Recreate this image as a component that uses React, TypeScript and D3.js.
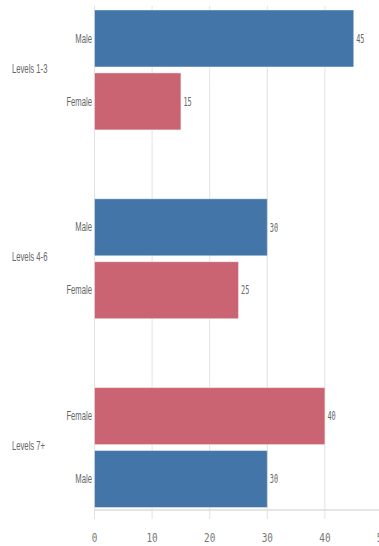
import React from "react";
import * as d3 from "d3";

const groups = ["Levels 1-3", "Levels 4-6", "Levels 7+"];
const genderOrder = [
  ["Male", "Female"],
  ["Male", "Female"],
  ["Female", "Male"],
];
const maleValues = [45, 30, 30];
const femaleValues = [15, 25, 40];
const xTicks = [0, 10, 20, 30, 40, 50];

const colors: Record<string, string> = { Male: "#4375a8", Female: "#cb6472" };

const W = 379;
const H = 546;
const left = 94.5;
const axisY = 510;
const labelFont = "'Liberation Sans', Arial, sans-serif";
const monoFont = "'DejaVu Sans Mono', monospace";

// Condensed text: horizontally squeezed around its anchor point
function Narrow({
  x,
  y,
  sx,
  anchor = "start",
  font,
  size,
  color,
  children,
}: {
  x: number;
  y: number;
  sx: number;
  anchor?: "start" | "middle" | "end";
  font: string;
  size: number;
  color: string;
  children: React.ReactNode;
}) {
  return (
    <g transform={`translate(${x},${y}) scale(${sx},1)`}>
      <text textAnchor={anchor} dominantBaseline="central" fontFamily={font} fontSize={size} fill={color}>
        {children}
      </text>
    </g>
  );
}

export default function App() {
  const x = d3.scaleLinear().domain([0, 50]).range([left, 382.5]);
  const yOuter = d3.scaleBand<string>().domain(groups).range([10, 507.5]).paddingInner(0.365).paddingOuter(0);
  const inner = d3.scaleBand<number>().domain([0, 1]).range([0, yOuter.bandwidth()]).paddingInner(0.095);

  const rows = groups.flatMap((g, gi) =>
    genderOrder[gi].map((gender, k) => ({
      group: g,
      gender,
      k,
      value: gender === "Male" ? maleValues[gi] : femaleValues[gi],
    }))
  );

  return (
    <svg width={W} height={H} style={{ position: "absolute", left: 0, top: 0, background: "#fff" }}>
      {xTicks.map((t) => (
        <line key={"g" + t} x1={x(t)} x2={x(t)} y1={6} y2={519} stroke="#e2e2e2" strokeWidth={1} />
      ))}
      <line x1={left} x2={W} y1={axisY} y2={axisY} stroke="#dcdcdc" strokeWidth={1.5} />
      {rows.map((r, i) => {
        const y = (yOuter(r.group) as number) + (inner(r.k) as number);
        const h = inner.bandwidth();
        return (
          <g key={i}>
            <rect
              x={x(0)}
              y={y}
              width={x(r.value) - x(0)}
              height={h}
              fill={colors[r.gender]}
              stroke="#ffffff"
              strokeOpacity={0.4}
              strokeWidth={1}
            />
            <Narrow x={x(0) - 2.5} y={y + h / 2} sx={0.64} anchor="end" font={labelFont} size={12} color="#666">
              {r.gender}
            </Narrow>
            <Narrow x={x(r.value) + 2.5} y={y + h / 2} sx={0.6} font={monoFont} size={11.5} color="#666">
              {r.value}
            </Narrow>
          </g>
        );
      })}
      {groups.map((g) => (
        <Narrow
          key={g}
          x={12}
          y={(yOuter(g) as number) + yOuter.bandwidth() / 2 - 1.5}
          sx={0.64}
          font={labelFont}
          size={12}
          color="#666"
        >
          {g}
        </Narrow>
      ))}
      {xTicks.map((t) => (
        <Narrow key={"t" + t} x={x(t)} y={537} sx={0.72} anchor="middle" font={monoFont} size={13} color="#777">
          {t}
        </Narrow>
      ))}
    </svg>
  );
}
